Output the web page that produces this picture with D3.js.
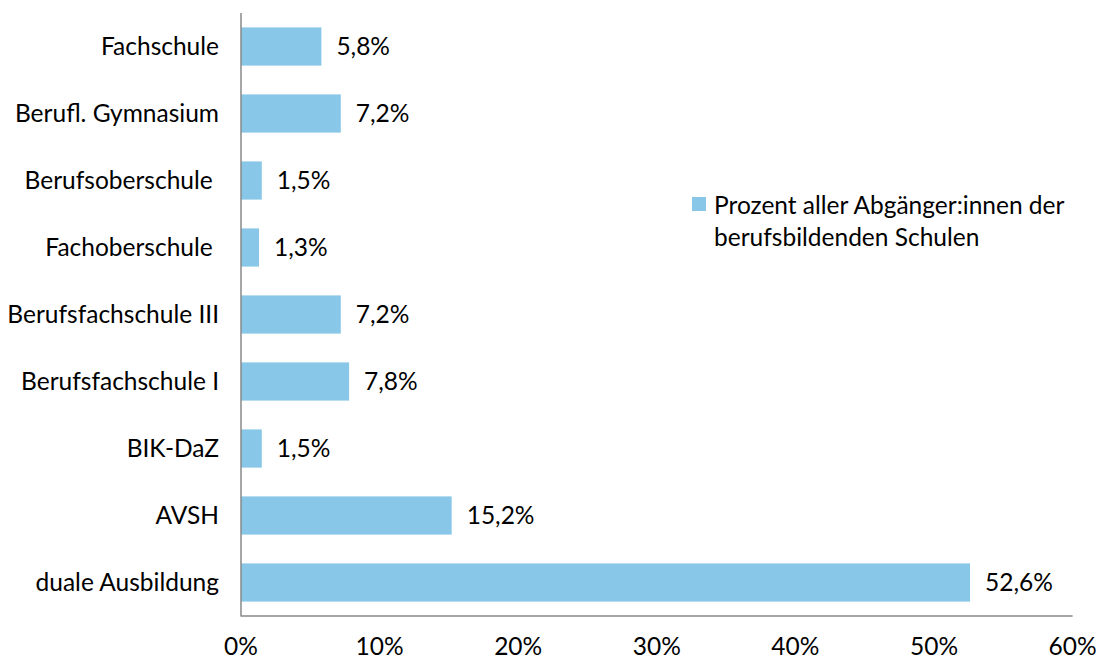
<!DOCTYPE html>
<html><head><meta charset="utf-8">
<script src="https://cdn.jsdelivr.net/npm/d3@7"></script>
<style>body{margin:0;background:#fff}text{font-family:Lato,"Open Sans",sans-serif;fill:#000}</style>
</head><body>
<svg id="c" width="1103" height="662"></svg>
<script>
const categories = ["Fachschule","Berufl. Gymnasium","Berufsoberschule ","Fachoberschule ","Berufsfachschule III","Berufsfachschule I","BIK-DaZ","AVSH","duale Ausbildung"];
const values = [5.8,7.2,1.5,1.3,7.2,7.8,1.5,15.2,52.6];
const xTicks = [0,10,20,30,40,50,60];
const legendLines = ["Prozent aller Abgänger:innen der","berufsbildenden Schulen"];

const FS = 24.5;
const svg = d3.select("#c");
const x = d3.scaleLinear().domain([0,60]).range([241,1072.6]);
const y = d3.scaleBand().domain(categories).range([13,616]).paddingInner(0.43).paddingOuter(0.215);
const fmt = v => v.toFixed(1).replace(".", ",") + "%";

svg.selectAll("rect.bar").data(values).join("rect").attr("class","bar")
  .attr("x", x(0)).attr("y",(d,i)=>y(categories[i]))
  .attr("width", d=>x(d)-x(0)).attr("height", y.bandwidth())
  .attr("fill","#88C7E7");

svg.selectAll("text.val").data(values).join("text").attr("class","val")
  .attr("x", d=>x(d)+15).attr("y",(d,i)=>y(categories[i])+y.bandwidth()/2)
  .attr("dy","0.35em").attr("font-size",FS).text(fmt);

svg.selectAll("text.cat").data(categories).join("text").attr("class","cat")
  .attr("x", 219).attr("y", d=>y(d)+y.bandwidth()/2).attr("dy","0.35em")
  .attr("text-anchor","end").attr("font-size",FS).attr("xml:space","preserve")
  .style("white-space","pre").text(d=>d);

svg.append("line").attr("x1",x(0)).attr("x2",x(0)).attr("y1",13).attr("y2",616.5)
  .attr("stroke","#898989").attr("stroke-width",1.5);
svg.append("line").attr("x1",x(0)).attr("x2",x(60)).attr("y1",616).attr("y2",616)
  .attr("stroke","#898989").attr("stroke-width",1.5);

svg.selectAll("text.tick").data(xTicks).join("text").attr("class","tick")
  .attr("x", d=>x(d)).attr("y",655).attr("text-anchor","middle")
  .attr("font-size",FS).text(d=>d+"%");

svg.append("rect").attr("x",692).attr("y",197).attr("width",14).attr("height",14).attr("fill","#88C7E7");
svg.selectAll("text.leg").data(legendLines).join("text").attr("class","leg")
  .attr("x",714).attr("y",(d,i)=>205+i*32).attr("dy","0.35em").attr("font-size",FS).text(d=>d);
</script>
</body></html>
